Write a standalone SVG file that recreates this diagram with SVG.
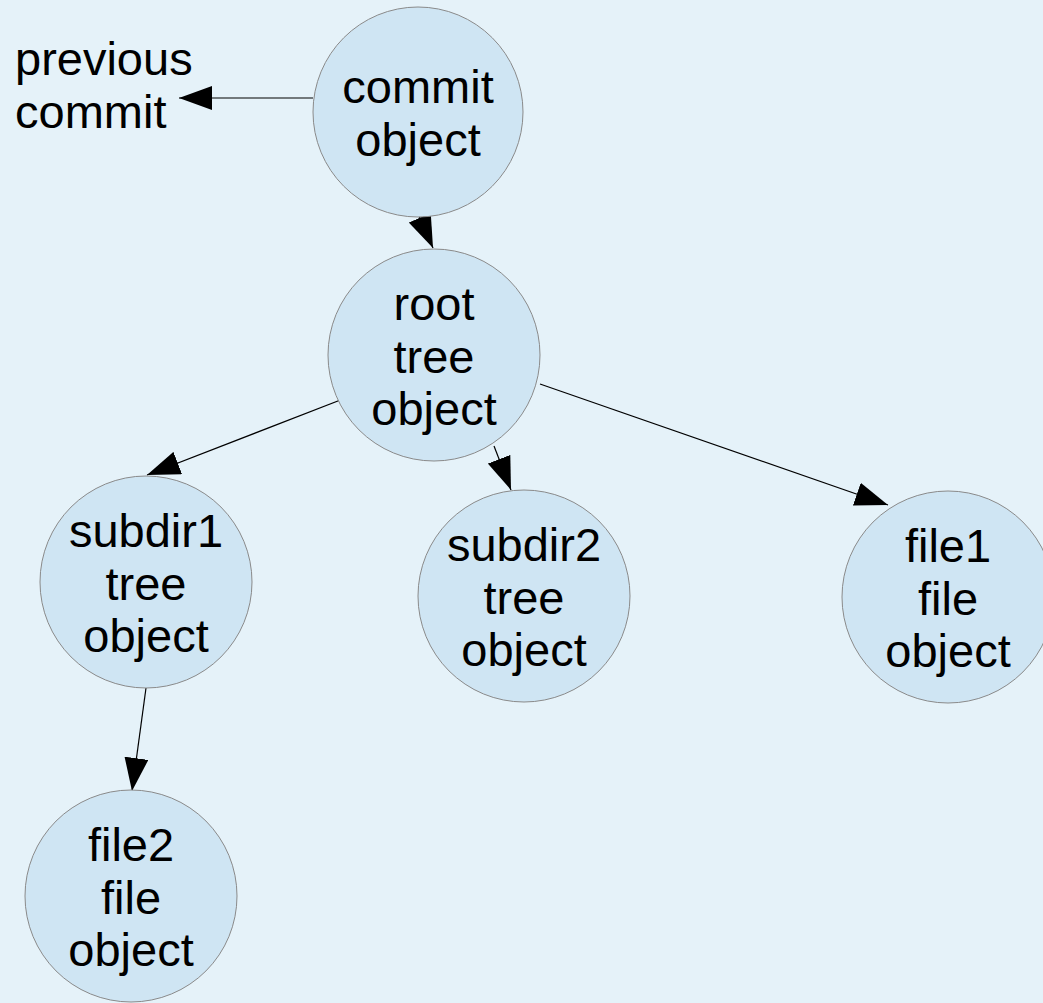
<svg xmlns="http://www.w3.org/2000/svg" width="1043" height="1003" viewBox="0 0 1043 1003">
<style>
.n{fill:#cfe5f3;stroke:#8a8a8a;stroke-width:1}
.t{font-family:"Liberation Sans",Arial,sans-serif;font-size:47px;fill:#000;text-anchor:middle}
.c{stroke:#000;stroke-width:1.2;fill:none;marker-end:url(#ah)}
</style>
<defs>
<marker id="ah" markerUnits="userSpaceOnUse" markerWidth="34" markerHeight="24" refX="33" refY="12" orient="auto">
<path d="M0,0 L33,12 L0,24 z" fill="#000"/>
</marker>
</defs>
<rect width="1043" height="1003" fill="#e5f2f9"/>
<g id="connectors">
<line class="c" x1="313" y1="98" x2="179" y2="98"/>
<line class="c" x1="419" y1="216" x2="433" y2="248"/>
<line class="c" x1="343" y1="399" x2="147" y2="475"/>
<line class="c" x1="494" y1="446" x2="511" y2="490"/>
<line class="c" x1="540" y1="384" x2="888" y2="505"/>
<line class="c" x1="146" y1="688" x2="132" y2="791"/>
</g>
<g id="previous">
<text class="t" style="text-anchor:start" x="15" y="75">previous</text>
<text class="t" style="text-anchor:start" x="15" y="128">commit</text>
</g>
<g id="commit">
<circle class="n" cx="418" cy="112" r="105"/>
<text class="t" x="418" y="103">commit</text>
<text class="t" x="418" y="156">object</text>
</g>
<g id="root">
<circle class="n" cx="434" cy="355" r="106"/>
<text class="t" x="434" y="320">root</text>
<text class="t" x="434" y="373">tree</text>
<text class="t" x="434" y="425">object</text>
</g>
<g id="subdir1">
<circle class="n" cx="146" cy="582" r="106"/>
<text class="t" x="146" y="547">subdir1</text>
<text class="t" x="146" y="600">tree</text>
<text class="t" x="146" y="652">object</text>
</g>
<g id="subdir2">
<circle class="n" cx="524" cy="596" r="106"/>
<text class="t" x="524" y="561">subdir2</text>
<text class="t" x="524" y="614">tree</text>
<text class="t" x="524" y="666">object</text>
</g>
<g id="file1">
<circle class="n" cx="948" cy="597" r="106"/>
<text class="t" x="948" y="562">file1</text>
<text class="t" x="948" y="615">file</text>
<text class="t" x="948" y="667">object</text>
</g>
<g id="file2">
<circle class="n" cx="131" cy="896" r="106"/>
<text class="t" x="131" y="861">file2</text>
<text class="t" x="131" y="914">file</text>
<text class="t" x="131" y="966">object</text>
</g>
</svg>
